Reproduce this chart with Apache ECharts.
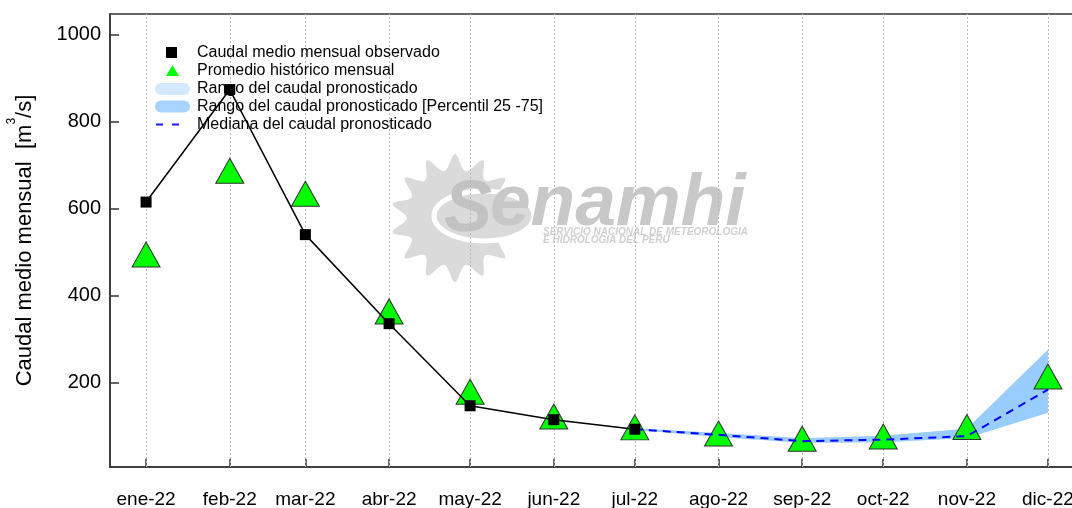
<!DOCTYPE html>
<html>
<head>
<meta charset="utf-8">
<script src="https://cdn.jsdelivr.net/npm/echarts@6/dist/echarts.min.js"></script>
<style>
html,body{margin:0;padding:0;background:#fff;}
#chart{width:1072px;height:508px;}
</style>
</head>
<body>
<div id="chart"></div>
<script>
// ---------- data ----------
const monthDates = ['2022-01-01','2022-02-01','2022-03-01','2022-04-01','2022-05-01','2022-06-01',
                    '2022-07-01','2022-08-01','2022-09-01','2022-10-01','2022-11-01','2022-12-01'];
const tickLabels = ['ene-22','feb-22','mar-22','abr-22','may-22','jun-22',
                    'jul-22','ago-22','sep-22','oct-22','nov-22','dic-22'];
const yTicks = [200, 400, 600, 800, 1000];

// Caudal medio mensual observado (ene-22 .. jul-22)
const observed = [615, 874, 540, 335, 146, 114, 92];
// Promedio histórico mensual (ene-22 .. dic-22)
const historical = [485, 678, 625, 354, 169, 112, 87, 73, 61, 66, 88, 204];
// Pronóstico (jul-22 .. dic-22)
const forecastDates = ['2022-07-01','2022-08-01','2022-09-01','2022-10-01','2022-11-01','2022-12-01'];
const forecastMedian = [92, 79, 64.5, 68, 76, 183];
const forecastP25 = [91, 74, 61, 62, 72, 130];
const forecastP75 = [94, 83, 71, 77, 93, 275];
const forecastMin = [91, 74, 61, 62, 72, 130];
const forecastMax = [94, 83, 71, 77, 93, 275];

const names = {
  obs: 'Caudal medio mensual observado',
  hist: 'Promedio histórico mensual',
  range: 'Rango del caudal pronosticado',
  pct: 'Rango del caudal pronosticado [Percentil 25 -75]',
  med: 'Mediana del caudal pronosticado'
};

// ---------- helpers ----------
const DAY = 86400000;
const toT = d => Date.parse(d + 'T00:00:00Z');
const monthTimes = monthDates.map(toT);
const fTimes = forecastDates.map(toT);
const xMin = monthTimes[0] - 13.36 * DAY;
const xMax = monthTimes[monthTimes.length - 1] + 13.36 * DAY;
function labelFor(v) {
  let best = 0, bd = Infinity;
  monthTimes.forEach((t, i) => { const d = Math.abs(t - v); if (d < bd) { bd = d; best = i; } });
  return tickLabels[best];
}
const FONT = '"Liberation Sans", Arial, sans-serif';

// watermark sun (decoration)
function sunPoints(cx, cy, rO, rI, n) {
  const pts = [];
  for (let k = 0; k < 2 * n; k++) {
    const a = -Math.PI / 2 + k * Math.PI / n;
    const r = k % 2 === 0 ? rO : rI;
    pts.push([cx + r * Math.cos(a), cy + r * Math.sin(a)]);
  }
  return pts;
}

function bandSeries(name, lo, hi, color) {
  return {
    name: name, type: 'custom', z: 2, silent: true,
    itemStyle: {color: color},
    encode: {x: 0, y: [1, 2]},
    data: fTimes.map((t, i) => [t, lo[i], hi[i]]),
    renderItem: function (params, api) {
      if (params.dataIndex !== 0) return null;
      const up = fTimes.map((t, i) => api.coord([t, hi[i]]));
      const dn = fTimes.map((t, i) => api.coord([t, lo[i]])).reverse();
      return {type: 'polygon', shape: {points: up.concat(dn)}, style: {fill: color, stroke: null}};
    }
  };
}

const chart = echarts.init(document.getElementById('chart'), null, {renderer: 'canvas'});

const legendBase = {
  orient: 'vertical', padding: 0, selectedMode: false,
  textStyle: {fontFamily: FONT, fontSize: 16, lineHeight: 16, color: '#000'}
};
function mkLegend(name, icon, color, left, cy, w, h, padLeft) {
  return Object.assign({}, legendBase, {
    left: left, top: cy - 8, itemWidth: w, itemHeight: h,
    textStyle: Object.assign({}, legendBase.textStyle, {padding: [0, 0, 0, padLeft]}),
    data: [{name: name, icon: icon, itemStyle: {color: color, borderWidth: 0, opacity: 1}}]
  });
}
const pill = 'path://M6,0H29A6,6 0 0 1 29,12H6A6,6 0 0 1 6,0Z';
const dashes = 'path://M0,0h7v2h-7zM16,0h7v2h-7z';

const option = {
  animation: false,
  backgroundColor: '#fff',
  textStyle: {fontFamily: FONT},
  grid: {left: 110, right: -12, top: 14, bottom: 41, outerBoundsMode: 'none', containLabel: false,
         show: true, borderColor: '#333', borderWidth: 1.5, backgroundColor: 'transparent'},
  legend: [
    mkLegend(names.obs, 'rect', '#000', 166, 52.5, 11, 11, 15),
    mkLegend(names.hist, 'triangle', '#00ff00', 166, 70.5, 13, 11, 13),
    mkLegend(names.range, pill, '#d4e9ff', 155, 89, 35, 13, 2),
    mkLegend(names.pct, pill, '#a9d3ff', 155, 106.5, 35, 13, 2),
    mkLegend(names.med, dashes, '#1a1aff', 156, 124.5, 23, 2, 13)
  ],
  graphic: [
    {type: 'polygon', z: 0, silent: true, shape: {points: sunPoints(455, 218, 64, 48, 14), smooth: 0.35}, style: {fill: '#dadada'}},
    {type: 'ellipse', z: 0, silent: true, shape: {cx: 484, cy: 216, rx: 50, ry: 25}, style: {fill: '#dadada', stroke: '#ffffff', lineWidth: 5}},
    {type: 'text', z: 0, silent: true, x: 444, y: 247, style: {text: 'S', font: 'italic bold 72px ' + FONT, fill: '#c2c2c2', verticalAlign: 'bottom'}},
    {type: 'text', z: 0, silent: true, x: 490, y: 241, style: {text: 'enamhi', font: 'italic bold 73px ' + FONT, fill: '#c8c8c8', verticalAlign: 'bottom'}},
    {type: 'text', z: 0, silent: true, x: 543, y: 237, style: {text: 'SERVICIO NACIONAL DE METEOROLOGIA', font: 'italic bold 10px ' + FONT, fill: '#d0d0d0', verticalAlign: 'bottom'}},
    {type: 'text', z: 0, silent: true, x: 543, y: 245, style: {text: 'E HIDROLOGIA DEL PERU', font: 'italic bold 10px ' + FONT, fill: '#d0d0d0', verticalAlign: 'bottom'}}
  ],
  xAxis: {
    type: 'value', min: xMin, max: xMax,
    axisLine: {show: true, lineStyle: {color: '#333', width: 1.5}},
    axisTick: {show: true, inside: true, length: 8, customValues: monthTimes, lineStyle: {color: '#333', width: 1.5}},
    axisLabel: {customValues: monthTimes, formatter: v => labelFor(v), fontSize: 19, color: '#000', margin: 23, fontFamily: FONT},
    splitLine: {show: false}
  },
  yAxis: {
    type: 'value', min: 5, max: 1048,
    axisLine: {show: true, lineStyle: {color: '#333', width: 1.5}},
    axisTick: {show: true, inside: true, length: 9, customValues: yTicks, lineStyle: {color: '#333', width: 1.5}},
    axisLabel: {customValues: yTicks, formatter: v => String(v), fontSize: 20, color: '#000', margin: 9, fontFamily: FONT},
    splitLine: {show: false},
    name: '{a|Caudal medio mensual  [m}{s|3}{a|/s]}',
    nameLocation: 'middle', nameGap: 66,
    nameTextStyle: {
      fontFamily: FONT, color: '#000',
      rich: {
        a: {fontSize: 22, lineHeight: 38, fontFamily: FONT, color: '#000'},
        s: {fontSize: 12, lineHeight: 12, verticalAlign: 'top', fontFamily: FONT, color: '#000'}
      }
    }
  },
  series: [
    {
      name: '_gridlines', type: 'line', data: [], silent: true,
      markLine: {
        silent: true, symbol: 'none', z: 1, label: {show: false},
        lineStyle: {color: '#b8b8b8', width: 1, type: [2, 2]},
        data: monthTimes.map(t => ({xAxis: t}))
      }
    },
    bandSeries(names.range, forecastMin, forecastMax, '#d4e9ff'),
    bandSeries(names.pct, forecastP25, forecastP75, '#99ccff'),
    {name: names.hist, type: 'scatter', z: 3, symbol: 'triangle', symbolSize: [28, 25], symbolOffset: [0, -4],
     itemStyle: {color: '#00ff00', borderColor: '#333', borderWidth: 1, opacity: 1},
     data: monthTimes.map((t, i) => [t, historical[i]])},
    {name: names.med, type: 'line', z: 4, symbol: 'none', color: '#0000ff',
     lineStyle: {color: '#0000ff', width: 2, type: [8, 6]},
     data: fTimes.map((t, i) => [t, forecastMedian[i]])},
    {name: names.obs, type: 'line', z: 5, symbol: 'rect', symbolSize: 11, color: '#000',
     itemStyle: {color: '#000'}, lineStyle: {color: '#000', width: 1.5},
     data: observed.map((v, i) => [monthTimes[i], v])}
  ]
};
chart.setOption(option);
</script>
</body>
</html>
